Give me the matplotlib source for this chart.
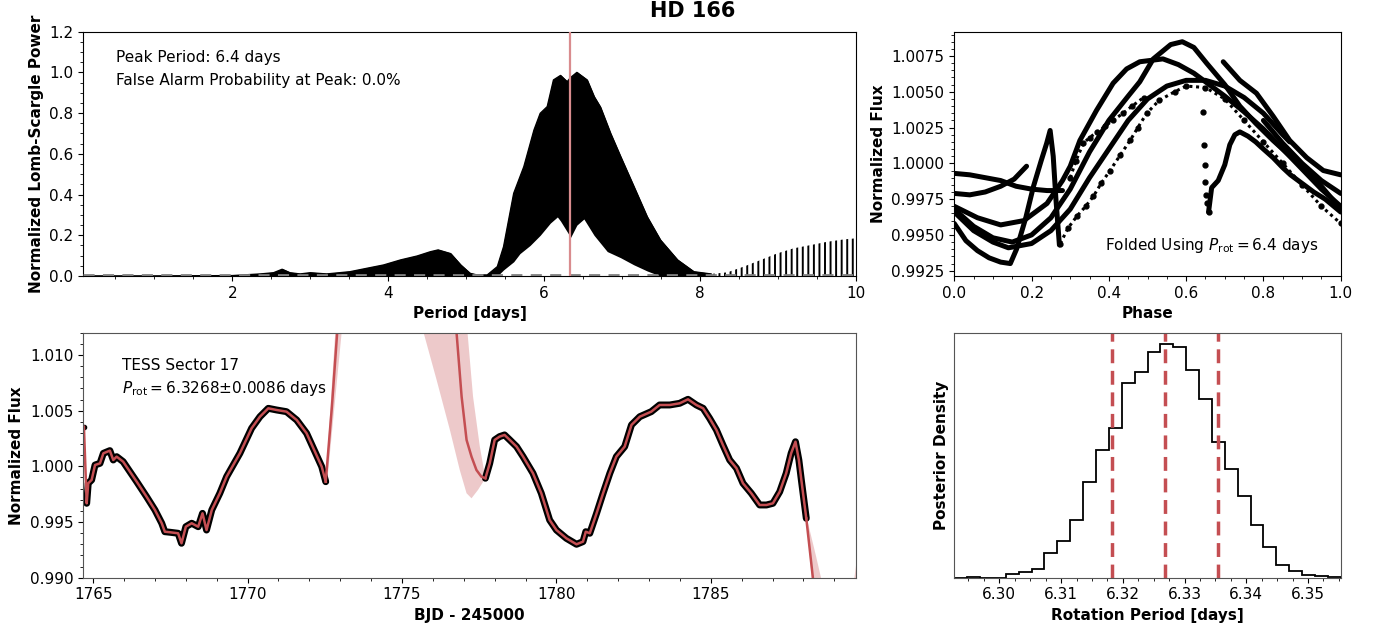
import numpy as np
import matplotlib
matplotlib.use("Agg")
import matplotlib.pyplot as plt
from matplotlib.ticker import MultipleLocator

plt.rcParams['font.size'] = 11
plt.rcParams['hatch.linewidth'] = 1.4

# ---------------- Lomb-Scargle periodogram (envelope of the fringes) ----------------
pg_period = [0.09, 1.0, 2.0, 2.36, 2.53, 2.64, 2.74, 2.87, 3.0, 3.21, 3.51, 3.73, 3.94,
             4.16, 4.37, 4.54, 4.64, 4.80, 4.93, 5.05, 5.14, 5.27, 5.40, 5.48, 5.61,
             5.74, 5.87, 5.95, 6.04, 6.12, 6.21, 6.295, 6.34, 6.42, 6.55, 6.64, 6.72,
             6.85, 6.98, 7.15, 7.32, 7.49, 7.71, 7.92, 8.14]
pg_upper = [0.0, 0.0, 0.002, 0.010, 0.016, 0.033, 0.016, 0.010, 0.016, 0.010, 0.021, 0.038, 0.054,
            0.079, 0.098, 0.119, 0.128, 0.110, 0.054, 0.013, 0.005, 0.005, 0.046, 0.144, 0.406,
            0.537, 0.717, 0.799, 0.832, 0.963, 0.985, 0.954, 0.975, 1.0, 0.963, 0.881, 0.830,
            0.701, 0.586, 0.439, 0.291, 0.177, 0.079, 0.021, 0.010]
# long-period tail where the single fringes are resolved
pg_tail_period = [8.14, 8.35, 8.56, 8.78, 8.99, 9.20, 9.42, 9.63, 9.85, 10.0]
pg_tail_upper = [0.010, 0.018, 0.046, 0.079, 0.111, 0.136, 0.152, 0.168, 0.180, 0.185]
pg_low_period = [5.40, 5.48, 5.61, 5.69, 5.82, 5.95, 6.08, 6.17, 6.21, 6.34, 6.42, 6.51,
                 6.64, 6.81, 6.98, 7.15, 7.32, 7.49]
pg_lower = [0.0, 0.03, 0.07, 0.11, 0.15, 0.20, 0.26, 0.29, 0.27, 0.19, 0.25, 0.28,
            0.20, 0.12, 0.09, 0.055, 0.025, 0.0]
fap_level = 0.006
best_period = 6.33

# ---------------- TESS light curve (sector 17) ----------------
lc1_time = [1764.70, 1764.79, 1764.84, 1764.95, 1765.06, 1765.22, 1765.33, 1765.54, 1765.65,
            1765.76, 1765.97, 1766.19, 1766.41, 1766.73, 1767.00, 1767.22, 1767.32, 1767.49,
            1767.75, 1767.86, 1768.00, 1768.19, 1768.40, 1768.54, 1768.67, 1768.84, 1769.10,
            1769.32, 1769.75, 1770.13, 1770.40, 1770.67, 1770.94, 1771.26, 1771.59, 1771.91,
            1772.18, 1772.40, 1772.53]
lc1_flux = [1.00356, 0.99668, 0.99848, 0.99878, 1.00012, 1.00027, 1.00117, 1.00141, 1.00057,
            1.00087, 1.00042, 0.99952, 0.99862, 0.99727, 0.99608, 0.99489, 0.99413, 0.99408,
            0.99399, 0.99309, 0.99458, 0.99489, 0.99458, 0.99578, 0.99428, 0.99608, 0.99758,
            0.99907, 1.00117, 1.00342, 1.00446, 1.00521, 1.00506, 1.00491, 1.00416, 1.00297,
            1.00132, 0.99997, 0.99862]
lc2_time = [1777.70, 1777.84, 1778.00, 1778.16, 1778.32, 1778.49, 1778.71, 1778.92, 1779.24,
            1779.51, 1779.78, 1780.00, 1780.32, 1780.65, 1780.86, 1780.95, 1781.08, 1781.30,
            1781.51, 1781.73, 1781.94, 1782.21, 1782.43, 1782.70, 1783.07, 1783.34, 1783.67,
            1783.99, 1784.26, 1784.53, 1784.75, 1784.96, 1785.18, 1785.39, 1785.61, 1785.83,
            1786.04, 1786.31, 1786.58, 1786.80, 1787.01, 1787.23, 1787.44, 1787.60, 1787.74,
            1787.85, 1787.93, 1788.00, 1788.09]
lc2_flux = [0.99893, 1.00027, 1.00237, 1.00267, 1.00282, 1.00237, 1.00177, 1.00087, 0.99938,
            0.99758, 0.99518, 0.99428, 0.99354, 0.99300, 0.99324, 0.99413, 0.99399, 0.99578,
            0.99758, 0.99938, 1.00087, 1.00177, 1.00372, 1.00446, 1.00491, 1.00551, 1.00551,
            1.00566, 1.00602, 1.00551, 1.00521, 1.00431, 1.00327, 1.00192, 1.00057, 0.99983,
            0.99848, 0.99758, 0.99653, 0.99653, 0.99668, 0.99772, 0.99938, 1.00117, 1.00221,
            1.00057, 0.99878, 0.99727, 0.99533]

# GP prediction across the gaps (mean and 1-sigma band outline)
gp_gap1_time = [1772.53, 1772.73, 1772.90, 1773.00]
gp_gap1_flux = [0.99862, 1.00536, 1.01200, 1.01550]
gp_gap1_band_t = [1772.53, 1772.86, 1773.08, 1772.60]
gp_gap1_band_f = [0.99862, 1.01300, 1.01300, 0.99930]
gp_gap2_time = [1776.60, 1776.76, 1776.93, 1777.09, 1777.25, 1777.41, 1777.57, 1777.70]
gp_gap2_flux = [1.01600, 1.01220, 1.00626, 1.00237, 1.00087, 0.99967, 0.99907, 0.99893]
gp_gap2_band_t = [1775.60, 1776.12, 1776.55, 1776.87, 1777.09, 1777.25, 1777.46, 1777.70,
                  1777.52, 1777.30, 1777.09]
gp_gap2_band_f = [1.01300, 1.00776, 1.00327, 0.99967, 0.99758, 0.99713, 0.99788, 0.99893,
                  1.00177, 1.00626, 1.01300]
gp_end_time = [1788.09, 1788.30, 1788.45]
gp_end_flux = [0.99533, 0.99009, 0.98650]
gp_end_band_t = [1788.05, 1788.40, 1788.65, 1788.30, 1788.09]
gp_end_band_f = [0.99600, 0.99200, 0.98900, 0.98900, 0.99533]
gp_tail_band_t = [1789.60, 1789.72, 1789.72]
gp_tail_band_f = [0.98900, 0.99150, 0.98900]
prot_text = "6.3268\u00b10.0086"

# ---------------- phase-folded light curve (strands of points) ----------------
fold_t1_phase = [0.00, 0.06, 0.12, 0.18, 0.24, 0.28, 0.30, 0.325, 0.368, 0.411, 0.446, 0.48,
                 0.54, 0.58, 0.62, 0.66, 0.70, 0.75, 0.80, 0.85, 0.90, 0.95, 1.00]
fold_t1_flux = [0.9970, 0.9962, 0.9957, 0.9960, 0.9972, 0.9988, 0.9998, 1.0016, 1.0037, 1.0056,
                1.0066, 1.0071, 1.0073, 1.0069, 1.0063, 1.0055, 1.0047, 1.0036, 1.0024, 1.0010,
                0.9996, 0.9982, 0.9970]
fold_t2_phase = [0.00, 0.05, 0.10, 0.15, 0.20, 0.25, 0.30, 0.35, 0.40, 0.45, 0.48, 0.515, 0.56,
                 0.59, 0.62, 0.653, 0.70, 0.739, 0.78, 0.825, 0.87, 0.912, 0.95, 1.00]
fold_t2_flux = [0.9968, 0.9956, 0.9948, 0.9945, 0.9950, 0.9962, 0.9982, 1.0008, 1.0030, 1.0047,
                1.0057, 1.0073, 1.0083, 1.0085, 1.0081, 1.0070, 1.0055, 1.0040, 1.0028, 1.0016,
                1.0005, 0.9995, 0.9984, 0.9968]
fold_t3a_phase = [0.696, 0.739, 0.782, 0.825, 0.868, 0.912, 0.955, 1.00]
fold_t3a_flux = [1.0071, 1.0058, 1.0049, 1.0033, 1.0016, 1.0004, 0.9995, 0.9992]
fold_t3b_phase = [0.00, 0.04, 0.08, 0.12, 0.16, 0.20, 0.24, 0.28]
fold_t3b_flux = [0.9993, 0.9992, 0.9990, 0.9988, 0.9984, 0.9982, 0.9981, 0.9981]
fold_t4a_phase = [0.80, 0.85, 0.90, 0.95, 1.00]
fold_t4a_flux = [1.0030, 1.0014, 1.0000, 0.9988, 0.9979]
fold_t4b_phase = [0.00, 0.04, 0.08, 0.12, 0.155, 0.187]
fold_t4b_flux = [0.9979, 0.9978, 0.9980, 0.9984, 0.9989, 0.9998]
fold_t5_phase = [0.00, 0.03, 0.06, 0.09, 0.12, 0.145, 0.161, 0.185, 0.205, 0.225, 0.239, 0.248,
                 0.256, 0.263, 0.272]
fold_t5_flux = [0.9958, 0.9946, 0.9939, 0.9934, 0.9931, 0.9930, 0.9940, 0.9962, 0.9984, 1.0002,
                1.0014, 1.0023, 1.0005, 0.9975, 0.9943]
fold_t6a_phase = [0.658, 0.666, 0.683, 0.700, 0.713, 0.726, 0.739, 0.76, 0.78, 0.80, 0.825,
                  0.85, 0.87, 0.90, 0.93, 0.96, 1.00]
fold_t6a_flux = [0.9966, 0.9983, 0.9988, 0.9999, 1.0013, 1.0020, 1.0022, 1.0019, 1.0015, 1.0010,
                 1.0004, 0.9997, 0.9992, 0.9986, 0.9980, 0.9975, 0.9966]
fold_t6b_phase = [0.00, 0.05, 0.10, 0.14, 0.20, 0.25, 0.30, 0.35, 0.40, 0.45, 0.50, 0.55, 0.60,
                  0.65, 0.70, 0.75, 0.80, 0.85, 0.868]
fold_t6b_flux = [0.9966, 0.9953, 0.9945, 0.9941, 0.9944, 0.9953, 0.9968, 0.9990, 1.0010, 1.0030,
                 1.0045, 1.0054, 1.0058, 1.0058, 1.0054, 1.0046, 1.0035, 1.0020, 1.0015]
fold_dip_phase = [0.644, 0.646, 0.648, 0.650, 0.652, 0.655, 0.658]
fold_dip_flux = [1.0036, 1.0013, 0.9999, 0.9987, 0.9978, 0.9972, 0.9966]
fold_t7_phase = [0.274, 0.295, 0.317, 0.34, 0.36, 0.38, 0.403, 0.43, 0.455, 0.475, 0.498, 0.53,
                 0.57, 0.60, 0.65, 0.70, 0.75, 0.80, 0.85, 0.90, 0.95, 1.00]
fold_t7_flux = [0.9944, 0.9955, 0.9963, 0.9970, 0.9977, 0.9986, 0.9995, 1.0006, 1.0016, 1.0025,
                1.0035, 1.0044, 1.0050, 1.0054, 1.0053, 1.0045, 1.0030, 1.0015, 1.0000, 0.9985,
                0.9970, 0.9958]
fold_t8_phase = [0.30, 0.315, 0.334, 0.35, 0.37, 0.39, 0.41, 0.437, 0.46, 0.49]
fold_t8_flux = [0.9990, 1.0002, 1.0014, 1.0018, 1.0022, 1.0026, 1.0030, 1.0035, 1.0040, 1.0046]

# ---------------- posterior of the rotation period ----------------
post_counts = [0, 3, 0.5, 0.5, 11, 18, 26, 74, 111, 172, 287, 383, 448, 583, 617, 677, 700,
               693, 622, 535, 406, 327, 245, 158, 91, 38, 21, 8, 5, 2]
post_lo, post_hi = 6.2927, 6.3553
prot_med, prot_err = 6.3268, 0.0086

red = '#c44e52'

fig = plt.figure(figsize=(13.85, 6.31), dpi=100)
W, H = 1385, 631


def px_axes(x0, y0, x1, y1):
    return fig.add_axes([x0 / W, 1 - y1 / H, (x1 - x0) / W, (y1 - y0) / H])


ax_pg = px_axes(83.3, 31.7, 856, 276)
ax_fold = px_axes(954.3, 31.7, 1340.7, 276)
ax_lc = px_axes(83.3, 332.7, 856, 577.7)
ax_post = px_axes(954.3, 332.7, 1340.7, 577.7)

# periodogram
ax_pg.fill_between(pg_period, 0, pg_upper, color='k', lw=1)
ax_pg.plot(pg_period, pg_upper, color='k', lw=1)
ax_pg.fill_between(pg_low_period, 0, pg_lower, color='white', lw=0)
ax_pg.fill_between(pg_tail_period, 0, pg_tail_upper, facecolor='none', edgecolor='k',
                   hatch='|||', lw=0)
ax_pg.axhline(fap_level, color='gray', ls='--', lw=2, dashes=(4, 3), zorder=4)
ax_pg.axvline(best_period, color='#d98c8e', lw=1.6, zorder=5)
ax_pg.set_xlim(0.09, 10)
ax_pg.set_ylim(0, 1.2)
ax_pg.xaxis.set_major_locator(MultipleLocator(2))
ax_pg.xaxis.set_minor_locator(MultipleLocator(0.5))
ax_pg.yaxis.set_major_locator(MultipleLocator(0.2))
ax_pg.yaxis.set_minor_locator(MultipleLocator(0.05))
ax_pg.set_xlabel('Period [days]', fontweight='bold')
ax_pg.set_ylabel('Normalized Lomb-Scargle Power', fontweight='bold')
ax_pg.text(0.042, 0.896, 'Peak Period: 6.4 days', transform=ax_pg.transAxes, va='center')
ax_pg.text(0.042, 0.802, 'False Alarm Probability at Peak: 0.0%', transform=ax_pg.transAxes,
           va='center')

# folded light curve
solid = [(fold_t1_phase, fold_t1_flux), (fold_t2_phase, fold_t2_flux),
         (fold_t3a_phase, fold_t3a_flux), (fold_t3b_phase, fold_t3b_flux),
         (fold_t4a_phase, fold_t4a_flux), (fold_t4b_phase, fold_t4b_flux),
         (fold_t5_phase, fold_t5_flux), (fold_t6a_phase, fold_t6a_flux),
         (fold_t6b_phase, fold_t6b_flux)]
for ph, fl in solid:
    ax_fold.plot(ph, fl, color='k', lw=3.6, solid_capstyle='round', solid_joinstyle='round')
for ph, fl in [(fold_t7_phase, fold_t7_flux), (fold_t8_phase, fold_t8_flux)]:
    ax_fold.plot(ph, fl, color='k', lw=2.2, ls=(0, (1, 1.2)), marker='o', ms=3.5)
ax_fold.plot(fold_dip_phase, fold_dip_flux, 'o', color='k', ms=3.5)
ax_fold.set_xlim(0, 1)
ax_fold.set_ylim(0.99213, 1.0092)
ax_fold.xaxis.set_major_locator(MultipleLocator(0.2))
ax_fold.xaxis.set_minor_locator(MultipleLocator(0.05))
ax_fold.yaxis.set_major_locator(MultipleLocator(0.0025))
ax_fold.yaxis.set_minor_locator(MultipleLocator(0.0005))
ax_fold.yaxis.set_major_formatter(plt.FormatStrFormatter('%.4f'))
ax_fold.set_xlabel('Phase', fontweight='bold')
ax_fold.set_ylabel('Normalized Flux', fontweight='bold')
ax_fold.text(0.942, 0.123, r'Folded Using $P_{\rm rot} = 6.4$ days', transform=ax_fold.transAxes,
             ha='right', va='center')

# light curve with GP model
for bt, bf in [(gp_gap1_band_t, gp_gap1_band_f), (gp_gap2_band_t, gp_gap2_band_f),
               (gp_end_band_t, gp_end_band_f), (gp_tail_band_t, gp_tail_band_f)]:
    ax_lc.fill(bt, bf, color=red, alpha=0.3, lw=0)
ax_lc.plot(lc1_time[1:], lc1_flux[1:], color='k', lw=5, solid_capstyle='round',
           solid_joinstyle='round')
ax_lc.plot(lc2_time, lc2_flux, color='k', lw=5, solid_capstyle='round', solid_joinstyle='round')
ax_lc.plot(lc1_time[:1], lc1_flux[:1], 'o', color='k', ms=3)
for t, f in [(lc1_time, lc1_flux), (gp_gap1_time, gp_gap1_flux), (lc2_time, lc2_flux),
             (gp_gap2_time, gp_gap2_flux), (gp_end_time, gp_end_flux)]:
    ax_lc.plot(t, f, color=red, lw=1.8)
ax_lc.set_xlim(1764.68, 1789.70)
ax_lc.set_ylim(0.990, 1.012)
ax_lc.xaxis.set_major_locator(MultipleLocator(5))
ax_lc.xaxis.set_minor_locator(MultipleLocator(1))
ax_lc.yaxis.set_major_locator(MultipleLocator(0.005))
ax_lc.yaxis.set_minor_locator(MultipleLocator(0.001))
ax_lc.yaxis.set_major_formatter(plt.FormatStrFormatter('%.3f'))
ax_lc.set_xlabel('BJD - 245000', fontweight='bold')
ax_lc.set_ylabel('Normalized Flux', fontweight='bold')
ax_lc.text(0.05, 0.868, 'TESS Sector 17', transform=ax_lc.transAxes, va='center')
ax_lc.text(0.05, 0.773, r'$P_{\rm rot} =$' + prot_text + ' days', transform=ax_lc.transAxes,
           va='center')

# posterior histogram
edges = np.linspace(post_lo, post_hi, len(post_counts) + 1)
ax_post.stairs(post_counts, edges, color='k', lw=1.3)
for v in [prot_med - prot_err, prot_med, prot_med + prot_err]:
    ax_post.axvline(v, color=red, ls='--', lw=2.5, dashes=(4, 2.2))
ax_post.set_xlim(post_lo, post_hi)
ax_post.set_ylim(0, max(post_counts) * 1.05)
ax_post.set_yticks([])
ax_post.xaxis.set_major_locator(MultipleLocator(0.01))
ax_post.xaxis.set_minor_locator(MultipleLocator(0.0025))
ax_post.xaxis.set_major_formatter(plt.FormatStrFormatter('%.2f'))
ax_post.set_xlabel('Rotation Period [days]', fontweight='bold')
ax_post.set_ylabel('Posterior Density', fontweight='bold')

for ax in (ax_lc, ax_post):
    for s in ax.spines.values():
        s.set_color('#555555')

fig.text(0.5, 0.982, 'HD 166', ha='center', va='center', fontsize=15, fontweight='bold')

fig.savefig('out.png', dpi=100)
